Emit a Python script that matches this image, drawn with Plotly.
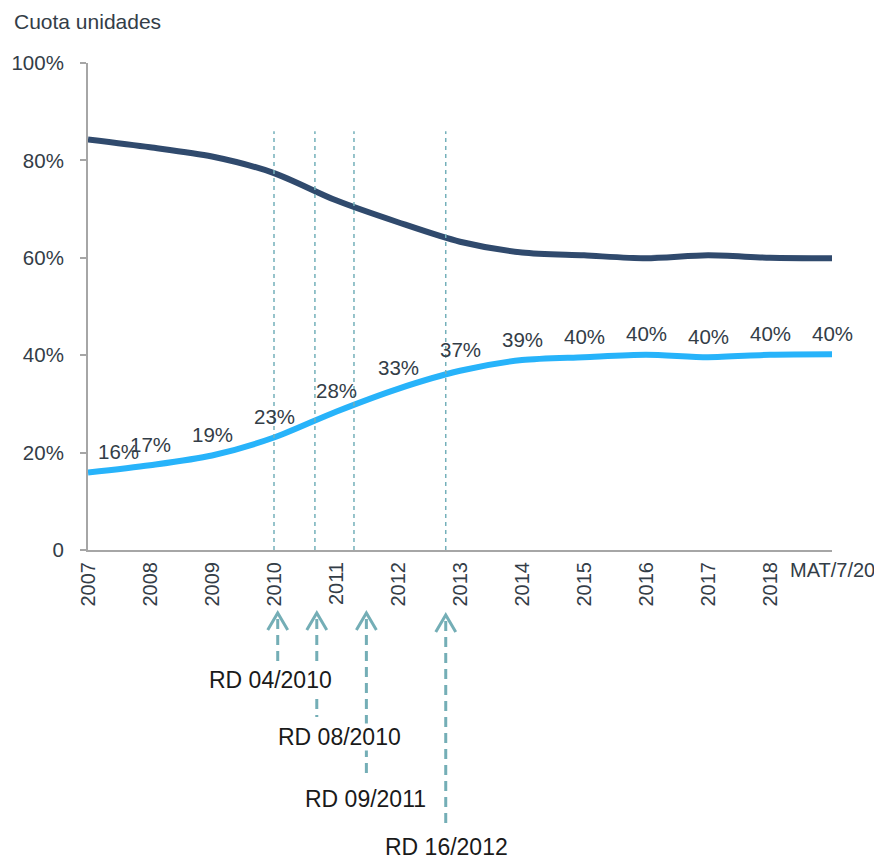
import plotly.graph_objects as go

# ---- data ----
categories = ["2007", "2008", "2009", "2010", "2011", "2012", "2013",
              "2014", "2015", "2016", "2017", "2018", "MAT/7/20"]
share_dark = [84.3, 82.7, 80.8, 77.4, 71.8, 67.3, 63.3, 61.1, 60.5, 59.9, 60.5, 60.0, 59.9]
share_light = [15.9, 17.4, 19.4, 23.1, 28.4, 33.1, 36.8, 39.0, 39.6, 40.1, 39.6, 40.1, 40.2]
y_ticks = [0, 20, 40, 60, 80, 100]
y_ticklabels = ["0", "20%", "40%", "60%", "80%", "100%"]
event_lines_x = [3.0, 3.66, 4.29, 5.77]           # positions on the category axis
event_arrows_x = [3.06, 3.69, 4.49, 5.77]
event_labels = ["RD 04/2010", "RD 08/2010", "RD 09/2011", "RD 16/2012"]
event_label_x = [2.94, 4.06, 4.48, 5.79]
event_shaft_bottom_px = [663, 717, 777, 827]      # pixel rows (page coords)
event_label_px = [680, 737, 799, 847]
event_tip_px = [613, 613, 613, 615]
event_line_top = 86

PAGE_OFF = 8  # default body margin of the html page
W, H = 882 - PAGE_OFF, 859 - PAGE_OFF
L, R, T, B = 88 - PAGE_OFF, 50, 63 - PAGE_OFF, 309
plot_h = H - T - B
plot_w = W - L - R


def py2paper(py):
    # py is a page pixel row
    return (H - B - (py - PAGE_OFF)) / plot_h


x = list(range(len(categories)))
text_col = "#333d47"
teal = "#74aeb6"
font_family = "Liberation Sans, Arial, sans-serif"

fig = go.Figure()
fig.add_trace(go.Scatter(x=x, y=share_dark, mode="lines",
                         line=dict(color="#304a6d", width=6, shape="spline", smoothing=0.8),
                         hoverinfo="skip", showlegend=False))
fig.add_trace(go.Scatter(x=x, y=share_light, mode="lines",
                         line=dict(color="#27b3fa", width=6, shape="spline", smoothing=0.8),
                         hoverinfo="skip", showlegend=False))

annotations = []
# data labels
for i, v in enumerate(share_light):
    annotations.append(dict(x=x[i], y=v, xref="x", yref="y", text=f"{round(v)}%",
                            showarrow=False, yshift=21, xshift=30 if i == 0 else 0,
                            font=dict(size=20.5, color=text_col, family=font_family)))
# title
annotations.append(dict(x=(12 - PAGE_OFF - L) / plot_w, y=py2paper(22), xref="paper", yref="paper",
                        xanchor="left", yanchor="middle", text="Cuota unidades", showarrow=False,
                        font=dict(size=21, color=text_col, family=font_family)))
# last category label (horizontal)
annotations.append(dict(x=x[-1], y=py2paper(570), xref="x", yref="paper", text=categories[-1],
                        showarrow=False, xanchor="center", yanchor="middle",
                        font=dict(size=20, color=text_col, family=font_family)))
# event labels
for lx, lab, lpy in zip(event_label_x, event_labels, event_label_px):
    annotations.append(dict(x=lx, y=py2paper(lpy), xref="x", yref="paper", text=lab,
                            showarrow=False, xanchor="center", yanchor="middle",
                            bgcolor="white", borderpad=0,
                            font=dict(size=23, color="#1a1a1a", family=font_family)))

shapes = []
for ex in event_lines_x:
    shapes.append(dict(type="line", xref="x", yref="y", x0=ex, x1=ex, y0=0, y1=event_line_top,
                       line=dict(color="#74b0ba", width=1.5, dash="4px,4px"), layer="above"))
for ax_, tip, bot in zip(event_arrows_x, event_tip_px, event_shaft_bottom_px):
    shapes.append(dict(type="line", xref="x", yref="paper", x0=ax_, x1=ax_,
                       y0=py2paper(tip + 6), y1=py2paper(bot),
                       line=dict(color=teal, width=3, dash="10px,6px"), layer="below"))
    shapes.append(dict(type="path", xref="x", yref="paper", xsizemode="pixel", ysizemode="pixel",
                       xanchor=ax_, yanchor=py2paper(tip),
                       path="M-10,-17 L0,0 L10,-17",
                       line=dict(color=teal, width=3), layer="below"))

fig.update_layout(
    width=W, height=H,
    margin=dict(l=L, r=R, t=T, b=B, autoexpand=False),
    paper_bgcolor="white", plot_bgcolor="white",
    font=dict(family=font_family, size=20, color=text_col),
    xaxis=dict(range=[0, 12], tickmode="array", tickvals=x[:-1], ticktext=categories[:-1],
               tickangle=-90, showgrid=False, zeroline=False, showline=True, automargin=False,
               linecolor="#a6a6a6", linewidth=2, ticks="", ticklabelstandoff=2,
               tickfont=dict(size=20, color=text_col)),
    yaxis=dict(range=[0, 100], tickmode="array", tickvals=y_ticks, ticktext=y_ticklabels,
               showgrid=False, zeroline=False, showline=True, linecolor="#a6a6a6", linewidth=2,
               automargin=False,
               ticks="outside", ticklen=6, tickcolor="#a6a6a6", tickwidth=2,
               ticklabelstandoff=12, tickfont=dict(size=20.5, color=text_col)),
    annotations=annotations, shapes=shapes, showlegend=False,
)

fig.write_html("out.html")
